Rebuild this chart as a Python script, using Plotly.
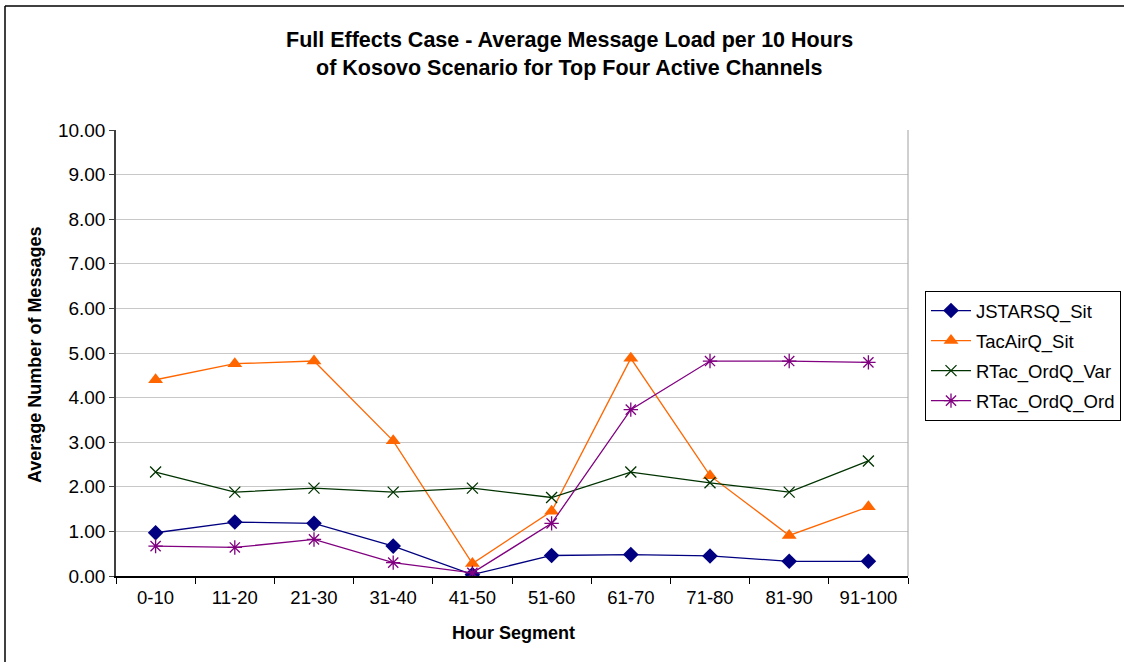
import plotly.graph_objects as go

categories = ["0-10", "11-20", "21-30", "31-40", "41-50", "51-60", "61-70", "71-80", "81-90", "91-100"]
jstarsq_sit = [0.97, 1.21, 1.18, 0.67, 0.03, 0.46, 0.48, 0.45, 0.33, 0.33]
tacairq_sit = [4.40, 4.76, 4.82, 3.03, 0.28, 1.45, 4.88, 2.25, 0.91, 1.55]
rtac_ordq_var = [2.33, 1.88, 1.97, 1.88, 1.97, 1.76, 2.33, 2.09, 1.88, 2.58]
rtac_ordq_ord = [0.67, 0.64, 0.82, 0.30, 0.07, 1.18, 3.73, 4.82, 4.82, 4.79]
y_ticks = [0, 1, 2, 3, 4, 5, 6, 7, 8, 9, 10]

FONT = "Liberation Sans, Arial, sans-serif"
W, H = 1124, 662
L, R, T, B = 116, 216, 130, 86

fig = go.Figure()
fig.add_trace(go.Scatter(x=categories, y=jstarsq_sit, name="JSTARSQ_Sit", mode="lines+markers", legendgroup="a",
                         line=dict(color="#000080", width=1.3),
                         marker=dict(symbol="diamond", size=12, color="#000080")))
fig.add_trace(go.Scatter(x=categories, y=tacairq_sit, name="TacAirQ_Sit", mode="lines+markers", legendgroup="b",
                         line=dict(color="#FF6600", width=1.3),
                         marker=dict(symbol="triangle-up", size=13, color="#FF6600")))
fig.add_trace(go.Scatter(x=categories, y=rtac_ordq_var, name="RTac_OrdQ_Var", mode="lines+markers", legendgroup="c",
                         line=dict(color="#003300", width=1.3),
                         marker=dict(symbol="x-thin-open", size=11, color="#003300", line=dict(width=1.3, color="#003300"))))
fig.add_trace(go.Scatter(x=categories, y=rtac_ordq_ord, name="RTac_OrdQ_Ord", mode="lines+markers", legendgroup="d",
                         line=dict(color="#800080", width=1.3),
                         marker=dict(symbol="asterisk-open", size=12, color="#800080", line=dict(width=1.3, color="#800080"))))

pw = W - L - R
ph = H - T - B

fig.update_layout(
    width=W, height=H,
    margin=dict(l=L, r=R, t=T, b=B, autoexpand=False),
    paper_bgcolor="white", plot_bgcolor="white",
    font=dict(family=FONT, color="black", size=18),
    showlegend=True,
    legend=dict(xref="container", yref="container", x=925 / W, y=1 - 291 / H, xanchor="left", yanchor="top",
                bordercolor="black", borderwidth=1, bgcolor="white", traceorder="grouped",
                font=dict(size=18.5, family=FONT), tracegroupgap=3, itemwidth=40),
    xaxis=dict(type="category", range=[-0.5, 9.5], showgrid=False, showline=True, linecolor="black", linewidth=1.5,
               ticks="outside", tickson="boundaries", ticklen=6, tickcolor="black", ticklabelstandoff=4,
               tickfont=dict(size=18.5, family=FONT), zeroline=False),
    yaxis=dict(range=[0, 10], tickvals=y_ticks, ticktext=[f"{v:.2f}" for v in y_ticks],
               showgrid=True, gridcolor="#C8C8C8", gridwidth=1, showline=True, linecolor="#404040", linewidth=1.5,
               ticks="outside", ticklen=5, tickcolor="#404040", tickfont=dict(size=19, family=FONT), zeroline=False),
    annotations=[
        dict(text="<b>Full Effects Case - Average Message Load per 10 Hours</b>", xref="paper", yref="paper",
             x=(569 - L) / pw, y=(H - B - 40) / ph, xanchor="center", yanchor="middle", showarrow=False,
             font=dict(size=21.5, family=FONT)),
        dict(text="<b>of Kosovo Scenario for Top Four Active Channels</b>", xref="paper", yref="paper",
             x=(569 - L) / pw, y=(H - B - 68) / ph, xanchor="center", yanchor="middle", showarrow=False,
             font=dict(size=21.5, family=FONT)),
        dict(text="<b>Average Number of Messages</b>", xref="paper", yref="paper",
             x=(35 - L) / pw, y=(576 - 355) / ph, xanchor="center", yanchor="middle", showarrow=False,
             textangle=-90, font=dict(size=18, family=FONT)),
        dict(text="<b>Hour Segment</b>", xref="paper", yref="paper",
             x=(513 - L) / pw, y=(576 - 633) / ph, xanchor="center", yanchor="middle", showarrow=False,
             font=dict(size=18, family=FONT)),
    ],
    shapes=[
        dict(type="line", xref="paper", yref="paper", x0=(5 - L) / pw, x1=(W + 20 - L) / pw,
             y0=(576 - 6) / ph, y1=(576 - 6) / ph, line=dict(color="black", width=1.5)),
        dict(type="line", xref="paper", yref="paper", x0=(5 - L) / pw, x1=(5 - L) / pw,
             y0=(576 - H - 20) / ph, y1=(576 - 6) / ph, line=dict(color="black", width=1.5)),
        dict(type="line", xref="paper", yref="paper", x0=1, x1=1, y0=0, y1=1, line=dict(color="#A0A0A0", width=1)),
    ],
)

fig.write_html("out.html", config={"displayModeBar": False},
               post_script="document.body.style.margin='0';document.body.style.overflow='hidden';")
